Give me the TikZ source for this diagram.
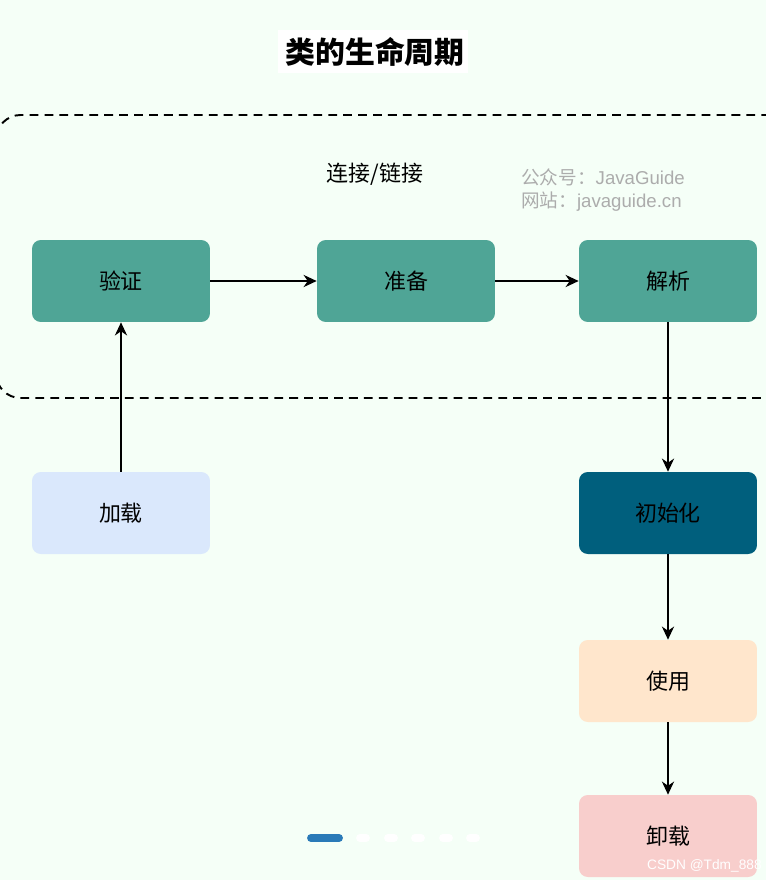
\documentclass[tikz,border=0pt]{standalone}
\usepackage{fontspec}
\setmainfont{Noto Sans CJK SC}
\newfontfamily\latinfont{Liberation Sans}
\usepackage{xcolor}
\definecolor{bgmint}{HTML}{F5FFF7}
\definecolor{stepteal}{HTML}{4FA596}
\definecolor{initblue}{HTML}{005F7D}
\definecolor{loadblue}{HTML}{DAE8FC}
\definecolor{useorange}{HTML}{FFE6CC}
\definecolor{unloadred}{HTML}{F8CECC}
\definecolor{dotblue}{HTML}{2A7AB8}
\usetikzlibrary{arrows.meta, positioning}

\begin{document}
\begin{tikzpicture}[x=0.02cm, y=-0.02cm,
    phase/.style={rounded corners=5pt, minimum width=3.56cm, minimum height=1.64cm,
                  font=\fontsize{12.5}{14}\selectfont, text=black},
    link/.style={-{Stealth[length=7.5pt, width=7pt]}, thick}]
      % canvas
      \fill[bgmint] (0,0) rectangle (766,880);
      \useasboundingbox (0,0) rectangle (766,880);
      % title
      \fill[white] (278,30) rectangle (468,73);
      \node[font=\fontsize{17}{19}\selectfont\bfseries] (title) at (375,52) {类的生命周期};
      % linking stage
      \draw[line width=1.1pt, dash pattern=on 5pt off 3.5pt, rounded corners=14pt]
        (800,115) -- (-4,115) -- (-4,398) -- (800,398);
      \node[font=\fontsize{12.5}{14}\selectfont] (linking) at (375,174) {连接/链接};
      \node[gray!65, align=left, anchor=west, font=\fontsize{10.6}{13.5}\selectfont\latinfont] (mark) at (515,190)
        {\fontspec{Noto Sans CJK SC}公众号：\latinfont JavaGuide\\ \fontspec{Noto Sans CJK SC}网站：\latinfont javaguide.cn};
      % phases
      \node[phase, fill=stepteal] (verify) at (121,281) {验证};
      \node[phase, fill=stepteal] (prepare) at (406,281) {准备};
      \node[phase, fill=stepteal] (resolve) at (668,281) {解析};
      \node[phase, fill=loadblue] (load) at (121,513) {加载};
      \node[phase, fill=initblue] (init) at (668,513) {初始化};
      \node[phase, fill=useorange] (use) at (668,681) {使用};
      \node[phase, fill=unloadred] (unload) at (668,836) {卸载};
      % arrows
      \draw[link] (load) -- (verify);
      \draw[link] (verify) -- (prepare);
      \draw[link] (prepare) -- (resolve);
      \draw[link] (resolve) -- (init);
      \draw[link] (init) -- (use);
      \draw[link] (use) -- (unload);
      % page dots
      \draw[dotblue, line width=4.5pt, line cap=round] (311,838) -- (339,838);
      \foreach \dx in {363,391,418,446,473}
        \draw[white, line width=4.5pt, line cap=round] (\dx-3,838) -- (\dx+3,838);
      \node[white, anchor=east, inner sep=0pt, font=\fontsize{7.8}{9}\selectfont\latinfont] (csdn) at (762,866) {CSDN @Tdm\_888};
    \end{tikzpicture}
\end{document}
